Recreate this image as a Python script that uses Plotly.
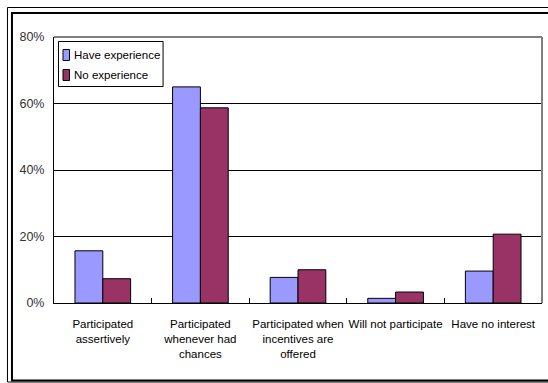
import plotly.graph_objects as go

categories = [
    "Participated<br>assertively",
    "Participated<br>whenever had<br>chances",
    "Participated when<br>incentives are<br>offered",
    "Will not participate",
    "Have no interest",
]
series_names = ["Have experience", "No experience"]
have_experience = [15.7, 65.0, 7.7, 1.4, 9.6]
no_experience = [7.3, 58.7, 10.0, 3.3, 20.7]
series_colors = ["#9999FF", "#993366"]
y_ticks = [0, 20, 40, 60, 80]

FONT = "Liberation Sans, Arial, sans-serif"

W, H = 548, 383
L, R, T, B = 54, 6.3, 37, 80
pw, ph = W - L - R, H - T - B


def px(x):
    return (x - L) / pw


def py(y):
    return (H - B - y) / ph


fig = go.Figure()
for name, vals, col in zip(series_names, [have_experience, no_experience], series_colors):
    fig.add_trace(go.Bar(
        name=name, x=categories, y=vals, showlegend=False,
        marker=dict(color=col, line=dict(color="#000000", width=1)),
    ))

shapes = [
    # plot area: grey top and right edges
    dict(type="line", xref="paper", yref="paper", x0=0, x1=1, y0=1, y1=1,
         line=dict(color="#808080", width=2)),
    dict(type="line", xref="paper", yref="paper", x0=1, x1=1, y0=0, y1=1,
         line=dict(color="#808080", width=2)),
    # outer double frame
    dict(type="rect", xref="paper", yref="paper",
         x0=px(7.5), x1=px(600), y0=py(382), y1=py(7.5),
         line=dict(color="#000000", width=1)),
    dict(type="rect", xref="paper", yref="paper",
         x0=px(12), x1=px(600), y0=py(380.5), y1=py(13),
         line=dict(color="#000000", width=2)),
    # compact legend box
    dict(type="rect", xref="paper", yref="paper",
         x0=px(58.5), x1=px(163), y0=py(86.5), y1=py(41.5),
         line=dict(color="#000000", width=1), fillcolor="white", layer="above"),
]
annotations = []
for i, (name, col) in enumerate(zip(series_names, series_colors)):
    yc = 55 + 20 * i
    shapes.append(dict(
        type="rect", xref="paper", yref="paper",
        x0=px(63), x1=px(69.5), y0=py(yc + 5.5), y1=py(yc - 5.5),
        line=dict(color="#000000", width=1), fillcolor=col, layer="above",
    ))
    annotations.append(dict(
        xref="paper", yref="paper", x=px(72), y=py(yc),
        xanchor="left", yanchor="middle", showarrow=False, text=name,
        font=dict(family=FONT, size=11.5, color="#000000"),
    ))

fig.update_layout(
    width=W, height=H,
    margin=dict(l=L, r=R, t=T, b=B),
    paper_bgcolor="white", plot_bgcolor="white",
    barmode="group", bargap=0.43, bargroupgap=0,
    font=dict(family=FONT, size=12, color="#000000"),
    showlegend=False,
    xaxis=dict(
        showline=True, linecolor="#000000", linewidth=1,
        ticks="inside", tickson="boundaries", ticklen=5, tickcolor="#000000",
        showgrid=False, tickangle=0, ticklabelstandoff=10,
        tickfont=dict(family=FONT, size=11.5, color="#000000"),
    ),
    yaxis=dict(
        range=[0, 80], tickvals=y_ticks, ticktext=[f"{v}%" for v in y_ticks],
        showgrid=True, gridcolor="#000000", gridwidth=1,
        showline=True, linecolor="#000000", linewidth=1,
        zeroline=False, ticks="", ticklabelstandoff=6,
        tickfont=dict(family=FONT, size=12.5, color="#333333"),
    ),
    shapes=shapes,
    annotations=annotations,
)

fig.write_html("out.html")
